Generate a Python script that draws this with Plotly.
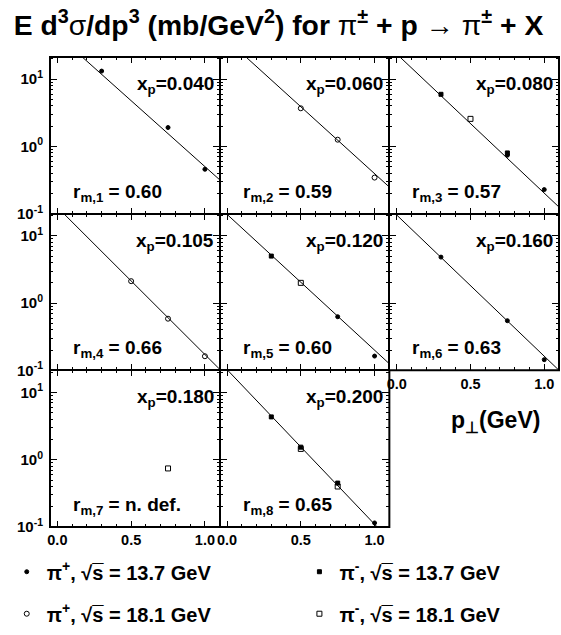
import numpy as np
import plotly.graph_objects as go
from plotly.subplots import make_subplots

# ---------------- data ----------------
pt = [0.3, 0.5, 0.75, 1.0]          # p_T (GeV) at which points exist
xp_labels = ["0.040", "0.060", "0.080", "0.105", "0.120", "0.160", "0.180", "0.200"]
rm_labels = ["0.60", "0.59", "0.57", "0.66", "0.60", "0.63", "n. def.", "0.65"]

# E d3sigma/dp3 (mb/GeV^2) per panel at pt = 0.3, 0.5, 0.75, 1.0 (None = no point)
pip_137 = [
    [13.2, None, 1.91, 0.457],
    [None, None, None, None],
    [None, None, 0.74, 0.228],
    [None, None, None, None],
    [None, None, 0.627, 0.163],
    [4.83, None, 0.547, 0.144],
    [None, None, None, None],
    [None, None, None, 0.115],
]
pip_181 = [
    [None, None, None, None],
    [None, 3.69, 1.26, 0.344],
    [None, None, None, None],
    [None, 2.12, 0.586, 0.162],
    [None, None, None, None],
    [None, None, None, None],
    [None, None, None, None],
    [None, None, None, None],
]
pim_137 = [
    [None, None, None, None],
    [None, None, None, None],
    [5.96, None, 0.80, None],
    [None, None, None, None],
    [5.0, None, None, None],
    [None, None, None, None],
    [None, None, None, None],
    [4.34, 1.54, 0.45, None],
]
pim_181 = [
    [None, None, None, None],
    [None, None, None, None],
    [None, 2.57, None, None],
    [None, None, None, None],
    [None, 2.0, None, None],
    [None, None, None, None],
    [None, None, 0.743, None],
    [None, 1.45, 0.40, None],
]
# exponential fits: log10(E d3s/dp3) = norm + slope * pT
fit_log10_norm = [1.66, 1.585, 1.375, 1.425, 1.32, 1.31, None, 1.341]
fit_log10_slope = [-1.96, -1.99, -2.07, -2.19, -2.02, -2.10, None, -2.30]

series = [
    ("π<sup>+</sup>, √s\u0305 = 13.7 GeV", pip_137, "circle", 4, "legend"),
    ("π<sup>+</sup>, √s\u0305 = 18.1 GeV", pip_181, "circle-open", 5, "legend"),
    ("π<sup>-</sup>, √s\u0305 = 13.7 GeV", pim_137, "square", 4, "legend2"),
    ("π<sup>-</sup>, √s\u0305 = 18.1 GeV", pim_181, "square-open", 5, "legend2"),
]

FONT = "Liberation Sans, Arial, sans-serif"
X_RANGE = [-0.05, 1.1]
Y_RANGE = [-1, 1.33]

fig = make_subplots(rows=3, cols=3, horizontal_spacing=0, vertical_spacing=0)

shown = set()
for i in range(8):
    r, c = i // 3 + 1, i % 3 + 1
    if fit_log10_norm[i] is not None:
        xl = np.array([0.0, 1.15])
        yl = 10 ** (fit_log10_norm[i] + fit_log10_slope[i] * xl)
        fig.add_trace(go.Scatter(x=xl, y=yl, mode="lines",
                                 line=dict(color="black", width=1),
                                 showlegend=False, hoverinfo="skip"), row=r, col=c)
    for k, (name, data, sym, msize, leg) in enumerate(series):
        xs = [p for p, v in zip(pt, data[i]) if v is not None]
        ys = [v for v in data[i] if v is not None]
        if not xs:
            continue
        fig.add_trace(go.Scatter(
            x=xs, y=ys, mode="markers", name=name,
            marker=dict(symbol=sym, size=msize, color="black",
                        line=dict(color="black", width=1)),
            legendgroup=name, showlegend=name not in shown, legend=leg,
            legendrank=k,
        ), row=r, col=c)
        shown.add(name)

minor_vals = [m * 10.0 ** e for e in (-1, 0, 1) for m in range(2, 10)]
for n in range(1, 10):
    i = n - 1
    r, c = i // 3 + 1, i % 3 + 1
    if n == 9:
        fig.update_xaxes(visible=False, row=r, col=c)
        fig.update_yaxes(visible=False, row=r, col=c)
        continue
    fig.update_xaxes(
        range=X_RANGE, showline=True, linecolor="black", linewidth=1, mirror="ticks",
        ticks="inside", ticklen=6, tickwidth=1, tickcolor="black",
        tickvals=[0.0, 0.5, 1.0], tickformat=".1f",
        minor=dict(tickvals=[0.1, 0.2, 0.3, 0.4, 0.6, 0.7, 0.8, 0.9, 1.1],
                   ticks="inside", ticklen=3, tickcolor="black", showgrid=False),
        showgrid=False, zeroline=False, automargin=False,
        showticklabels=(n in (6, 7, 8)),
        tickfont=dict(family=FONT, size=14.5, color="black", weight="bold"),
        row=r, col=c)
    fig.update_yaxes(
        type="log", range=Y_RANGE, showline=True, linecolor="black", linewidth=1,
        mirror="ticks", ticks="inside", ticklen=7, tickwidth=1, tickcolor="black",
        tickvals=[0.1, 1, 10],
        ticktext=["10<sup>-1</sup>", "10<sup>0</sup>", "10<sup>1</sup>"],
        minor=dict(tickvals=minor_vals, ticks="inside", ticklen=3,
                   tickcolor="black", showgrid=False),
        showgrid=False, zeroline=False, automargin=False,
        showticklabels=(c == 1), ticklabelstandoff=3,
        tickfont=dict(family=FONT, size=15, color="black", weight="bold"),
        row=r, col=c)

# outer frame (2 px like the inner dividers)
frame = dict(type="path", xref="paper", yref="paper",
             path="M 0,1 L 1,1 L 1,0.3333 L 0.6667,0.3333 L 0.6667,0 L 0,0 Z",
             line=dict(color="black", width=2), layer="above")

annos = []
for i in range(8):
    n = i + 1
    xr = "x domain" if n == 1 else f"x{n} domain"
    yr = "y domain" if n == 1 else f"y{n} domain"
    annos.append(dict(text="x<sub>p</sub>=" + xp_labels[i], xref=xr, yref=yr,
                      x=1, y=1, xanchor="right", yanchor="top", xshift=-4, yshift=-14,
                      showarrow=False,
                      font=dict(family=FONT, size=19, color="black", weight="bold")))
    annos.append(dict(text=f"r<sub>m,{n}</sub> = " + rm_labels[i], xref=xr, yref=yr,
                      x=0, y=0, xanchor="left", yanchor="bottom", xshift=21, yshift=7,
                      showarrow=False,
                      font=dict(family=FONT, size=19, color="black", weight="bold")))
annos.append(dict(text="p<sub>⊥</sub>(GeV)", xref="paper", yref="paper",
                  x=0.876, y=0.225, xanchor="center", yanchor="middle", showarrow=False,
                  font=dict(family=FONT, size=23, color="black", weight="bold")))

NW = "<span style='font-weight:normal'>"
title_text = ("E d<sup>3</sup>" + NW + "σ</span>/dp<sup>3</sup> (mb/GeV<sup>2</sup>) for "
              + NW + "π</span><sup>±</sup> + p " + NW + "→</span> "
              + NW + "π</span><sup>±</sup> + X")

legend_common = dict(font=dict(family=FONT, size=20, color="black", weight="bold"),
                     bgcolor="rgba(0,0,0,0)", borderwidth=0, traceorder="grouped",
                     tracegroupgap=13, itemwidth=30, yanchor="bottom", xanchor="left")

fig.update_layout(
    width=561, height=635,
    margin=dict(l=50, r=2, t=57, b=108),
    paper_bgcolor="white", plot_bgcolor="white",
    title=dict(text=title_text, x=278.5 / 561, xref="container", xanchor="center",
               y=1 - 25 / 635, yref="container", yanchor="middle",
               font=dict(family=FONT, size=28.3, color="black", weight="bold")),
    annotations=annos,
    shapes=[frame],
    legend=dict(x=-0.085, y=-0.226, **legend_common),
    legend2=dict(x=0.49, y=-0.226, **legend_common),
    showlegend=True,
)

fig.write_html("out.html", post_script="document.body.style.margin='0';",
               config={"displayModeBar": False})
